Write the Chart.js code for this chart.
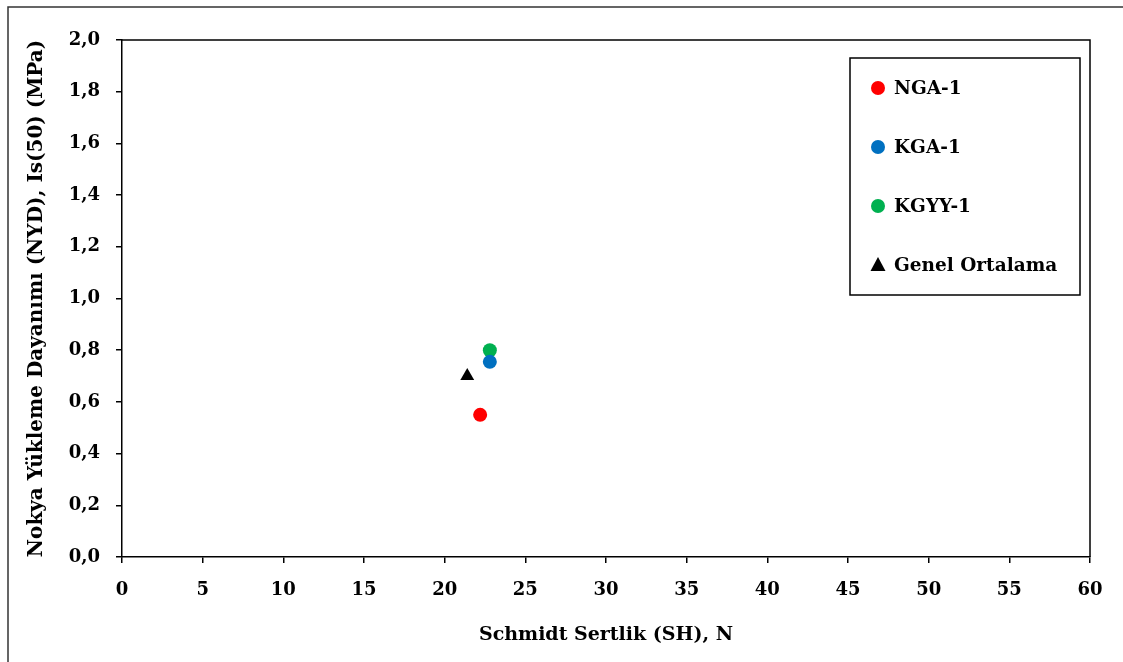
<!DOCTYPE html>
<html>
<head>
<meta charset="utf-8">
<script src="https://cdn.jsdelivr.net/npm/chart.js@4"></script>
<style>
  html, body { margin: 0; padding: 0; background: #fff; }
  #wrap { width: 1123px; height: 662px; position: relative; }
</style>
</head>
<body>
<div id="wrap"><canvas id="scatterChart"></canvas></div>
<script>
const seriesNames = ['NGA-1', 'KGA-1', 'KGYY-1', 'Genel Ortalama'];
const seriesColors = ['#ff0000', '#0070c0', '#00b050', '#000000'];
const seriesShapes = ['circle', 'circle', 'circle', 'triangle'];
const schmidtSH = [22.2, 22.8, 22.8, 21.4];
const nokyaIs50 = [0.55, 0.755, 0.80, 0.70];

const xTitle = 'Schmidt Sertlik (SH), N';
const yTitle = 'Nokya Yükleme Dayanımı (NYD), Is(50) (MPa)';

const fontFamily = '"DejaVu Serif", "Liberation Serif", serif';
const fontSize = 18;

const datasets = seriesNames.map((name, i) => ({
    label: name,
    data: [{ x: schmidtSH[i], y: nokyaIs50[i] }],
    backgroundColor: seriesColors[i],
    borderColor: seriesColors[i],
    pointStyle: seriesShapes[i],
    pointRadius: seriesShapes[i] === 'triangle' ? 8 : 7,
    pointBorderWidth: 0
}));

// outer frame, plot box and legend box
const framePlugin = {
    id: 'framePlugin',
    afterDraw(chart) {
        const ctx = chart.ctx;
        const a = chart.chartArea;
        ctx.save();
        ctx.strokeStyle = '#333';
        ctx.lineWidth = 1.5;
        ctx.beginPath();
        ctx.moveTo(8, 662);
        ctx.lineTo(8, 7);
        ctx.lineTo(1123, 7);
        ctx.stroke();

        ctx.strokeStyle = '#000';
        ctx.lineWidth = 1.5;
        ctx.beginPath();
        ctx.moveTo(a.left, a.top);
        ctx.lineTo(a.right, a.top);
        ctx.lineTo(a.right, a.bottom);
        ctx.stroke();

        // legend
        const bx = a.right - 240, by = a.top + 18, bw = 230, bh = 237;
        ctx.fillStyle = '#fff';
        ctx.fillRect(bx, by, bw, bh);
        ctx.lineWidth = 1.5;
        ctx.strokeStyle = '#000';
        ctx.strokeRect(bx, by, bw, bh);
        ctx.font = 'bold 18.5px ' + fontFamily;
        ctx.textBaseline = 'middle';
        chart.data.datasets.forEach((ds, i) => {
            const cy = by + 30 + i * 59;
            const cx = bx + 28;
            ctx.fillStyle = ds.backgroundColor;
            ctx.beginPath();
            if (ds.pointStyle === 'triangle') {
                ctx.moveTo(cx, cy - 8);
                ctx.lineTo(cx + 7.5, cy + 6);
                ctx.lineTo(cx - 7.5, cy + 6);
                ctx.closePath();
            } else {
                ctx.arc(cx, cy, 7, 0, Math.PI * 2);
            }
            ctx.fill();
            ctx.fillStyle = '#000';
            ctx.fillText(ds.label, bx + 44, cy + 1);
        });
        ctx.restore();
    }
};

const ctx = document.getElementById('scatterChart').getContext('2d');
new Chart(ctx, {
    type: 'scatter',
    data: { datasets: datasets },
    options: {
        responsive: true,
        maintainAspectRatio: false,
        animation: false,
        layout: { padding: { left: 0, top: 40, right: 33, bottom: 0 } },
        scales: {
            x: {
                min: 0,
                max: 60,
                ticks: {
                    stepSize: 5,
                    color: '#000',
                    padding: 17,
                    font: { family: fontFamily, size: fontSize, weight: 'bold' }
                },
                grid: { drawOnChartArea: false, tickLength: 6, color: '#000', lineWidth: 1.5 },
                border: { display: true, color: '#000', width: 1.5 },
                title: {
                    display: true,
                    text: xTitle,
                    color: '#000',
                    padding: { top: 0, bottom: 16 },
                    font: { family: fontFamily, size: 19, weight: 'bold' }
                },
                afterFit(scale) { scale.height = 105; }
            },
            y: {
                min: 0,
                max: 2,
                ticks: {
                    stepSize: 0.2,
                    color: '#000',
                    padding: 16,
                    font: { family: fontFamily, size: fontSize, weight: 'bold' },
                    callback: v => v.toFixed(1).replace('.', ',')
                },
                grid: { drawOnChartArea: false, tickLength: 6, color: '#000', lineWidth: 1.5 },
                border: { display: true, color: '#000', width: 1.5 },
                title: {
                    display: true,
                    text: yTitle,
                    color: '#000',
                    padding: { top: 25, bottom: 0 },
                    font: { family: fontFamily, size: 20, weight: 'bold' }
                },
                afterFit(scale) { scale.width = 122; }
            }
        },
        plugins: {
            legend: { display: false },
            tooltip: { enabled: false }
        }
    },
    plugins: [framePlugin]
});
</script>
</body>
</html>
